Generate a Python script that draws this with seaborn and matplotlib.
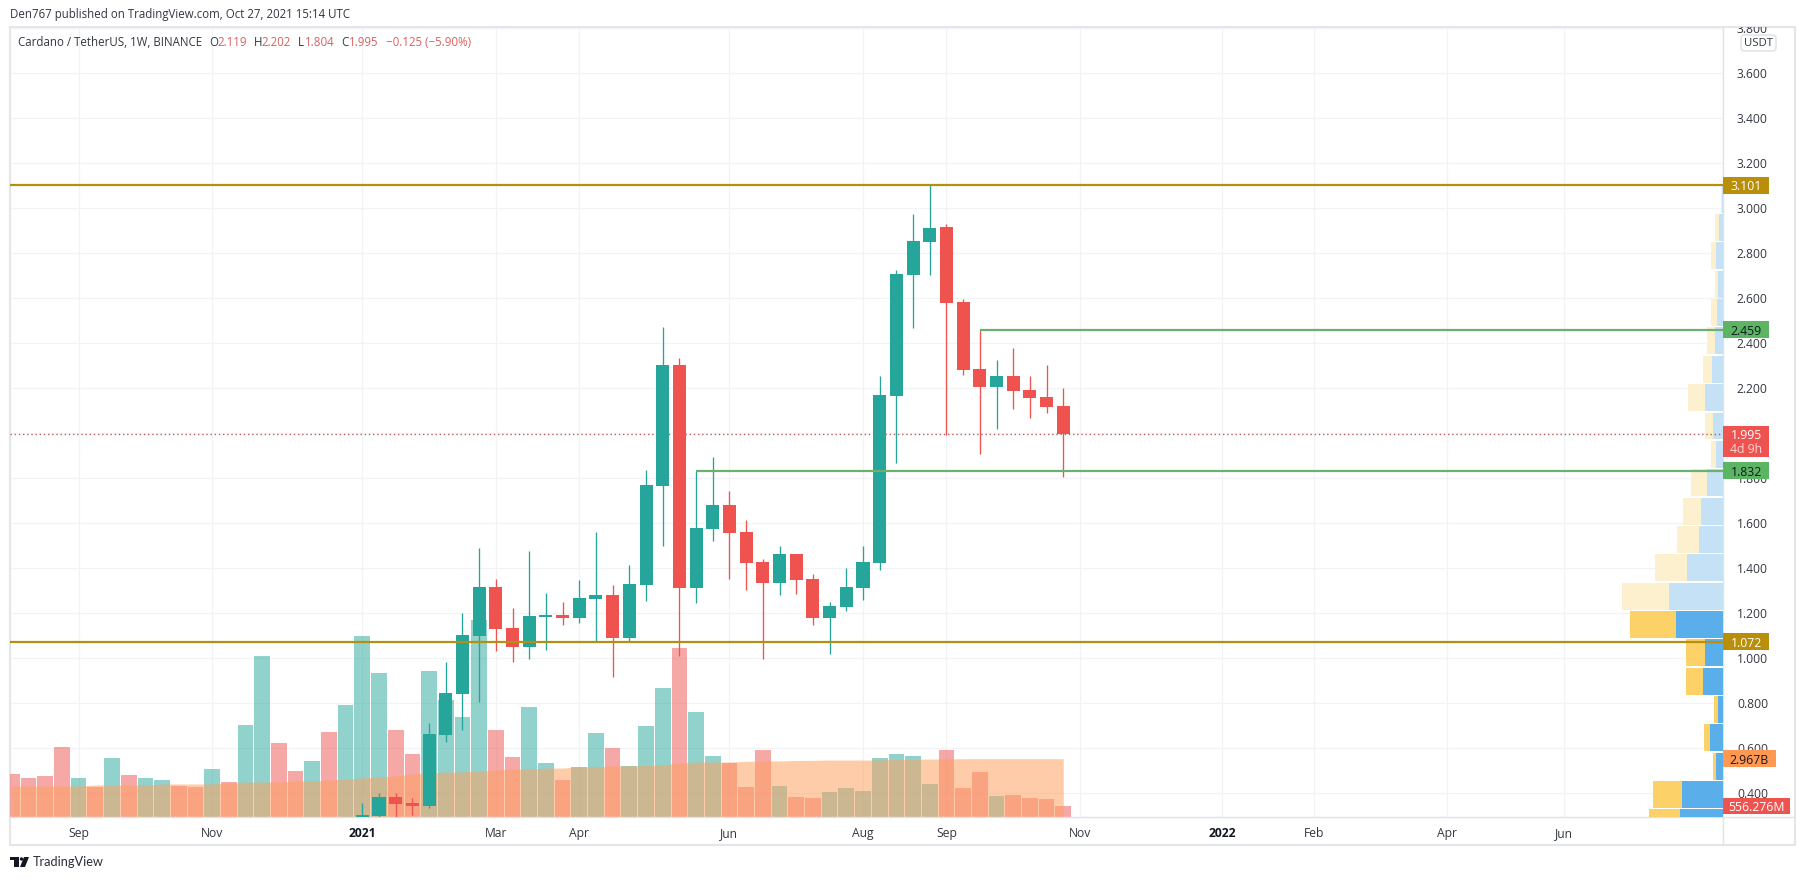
# 1. IMPORT LIBRARIES

import numpy as np
import pandas as pd
import matplotlib.pyplot as plt
import seaborn as sns
from matplotlib.patches import Rectangle, FancyBboxPatch, Circle, Polygon
from matplotlib.transforms import Affine2D, Bbox, blended_transform_factory

sns.set_theme(style="white")
plt.rcParams['font.family'] = ['Open Sans', 'DejaVu Sans']


# 2. DATA

# weekly volume in billions, one per week
volume = [2.19, 1.99, 2.09, 3.56, 1.99, 1.53, 3.00, 2.14, 1.99, 1.88,
          1.58, 1.53, 2.44, 1.78, 4.68, 8.19, 3.77, 2.34, 2.85, 4.33,
          5.70, 9.21, 7.33, 4.43, 3.21, 7.43, 5.96, 5.09, 10.03, 4.43,
          3.05, 5.60, 2.75, 1.88, 2.55, 4.28, 3.51, 2.60, 4.63, 6.57,
          8.60, 5.34, 3.10, 2.75, 1.53, 3.41, 1.58, 1.02, 0.97, 1.27,
          1.48, 1.32, 3.00, 3.21, 3.10, 1.68, 3.41, 1.48, 2.29, 1.07,
          1.12, 0.97, 0.92, 0.556]
side = ['d', 'd', 'd', 'd', 'u', 'd', 'u', 'd', 'u', 'u',
        'd', 'd', 'u', 'd', 'u', 'u', 'd', 'd', 'u', 'd',
        'u', 'u', 'u', 'd', 'd', 'u', 'u', 'u', 'u', 'd',
        'd', 'u', 'u', 'd', 'u', 'u', 'd', 'u', 'u', 'u',
        'd', 'u', 'u', 'd', 'd', 'd', 'u', 'd', 'd', 'u',
        'u', 'u', 'u', 'u', 'u', 'u', 'd', 'd', 'd', 'u',
        'd', 'd', 'd', 'd']
volume_ma = [1.58, 1.58, 1.58, 1.58, 1.58, 1.63, 1.63, 1.63, 1.63, 1.68,
             1.68, 1.68, 1.68, 1.73, 1.78, 1.78, 1.78, 1.83, 1.83, 1.88,
             1.93, 1.99, 2.04, 2.09, 2.19, 2.24, 2.29, 2.29, 2.34, 2.39,
             2.44, 2.44, 2.49, 2.49, 2.55, 2.55, 2.60, 2.60, 2.62, 2.65,
             2.75, 2.80, 2.80, 2.80, 2.83, 2.85, 2.85, 2.88, 2.88, 2.90,
             2.90, 2.90, 2.90, 2.93, 2.93, 2.95, 2.95, 2.967, 2.967, 2.967,
             2.967, 2.967, 2.967, 2.967]

# candles start at week 21
first_candle = 21
opens = [.293, .298, .381, .357, .342, .658, .84, 1.098, 1.316, 1.133, 1.049,
         1.182, 1.191, 1.178, 1.262, 1.28, 1.089, 1.324, 1.764, 2.302, 1.311,
         1.573, 1.68, 1.56, 1.427, 1.333, 1.462, 1.351, 1.178, 1.227, 1.311,
         1.422, 2.164, 2.702, 2.849, 2.916, 2.582, 2.284, 2.204, 2.253, 2.191,
         2.16, 2.119]
closes = [.304, .381, .351, .342, .662, .844, 1.102, 1.316, 1.129, 1.049, 1.187,
          1.191, 1.178, 1.267, 1.28, 1.089, 1.329, 1.769, 2.302, 1.311, 1.578,
          1.68, 1.556, 1.422, 1.333, 1.462, 1.347, 1.178, 1.231, 1.316, 1.427,
          2.169, 2.707, 2.853, 2.911, 2.578, 2.28, 2.204, 2.253, 2.187, 2.156,
          2.116, 1.995]
highs = [.357, .401, .401, .376, .711, .982, 1.2, 1.489, 1.351, 1.222, 1.476,
         1.289, 1.249, 1.347, 1.56, 1.324, 1.413, 1.836, 2.471, 2.333, 1.832,
         1.893, 1.742, 1.613, 1.44, 1.498, 1.462, 1.373, 1.249, 1.4, 1.498,
         2.253, 2.724, 2.973, 3.101, 2.929, 2.596, 2.459, 2.324, 2.378, 2.253,
         2.302, 2.202]
lows = [.293, .293, .293, .302, .333, .627, .68, .804, 1.031, .982, .996,
        1.036, 1.147, 1.156, 1.076, .916, 1.076, 1.253, 1.498, 1.009, 1.244,
        1.52, 1.351, 1.302, .996, 1.28, 1.284, 1.147, 1.018, 1.209, 1.258,
        1.391, 1.867, 2.467, 2.702, 1.991, 2.258, 1.907, 2.018, 2.107, 2.067,
        2.089, 1.804]

# volume profile, relative width per price bin (bottom to top)
vp_price = [.267, .393, .519, .645, .771, .897, 1.023, 1.149, 1.275, 1.401, 1.527,
            1.653, 1.779, 1.905, 2.031, 2.157, 2.283, 2.409, 2.535, 2.661, 2.787,
            2.913, 3.039]
vp_up = [43, 41, 7, 13, 5, 20, 18, 47, 54, 36, 24,
         22, 16, 7, 10, 18, 11, 8, 6, 5, 7, 4, 1]
vp_down = [31, 29, 3, 6, 4, 17, 19, 46, 47, 32, 22,
           18, 16, 5, 8, 17, 9, 8, 6, 3, 5, 4, 0.5]
vp_value_area = [True] * 8 + [False] * 15

y_ticks = [0.4, 0.6, 0.8, 1.0, 1.2, 1.4, 1.6, 1.8, 2.0, 2.2,
           2.4, 2.6, 2.8, 3.0, 3.2, 3.4, 3.6, 3.8]
# 2.000 sits behind the last price badge in the picture, so no text for it
y_tick_labels = ['0.400', '0.600', '0.800', '1.000', '1.200', '1.400', '1.600', '1.800', '',
                 '2.200', '2.400', '2.600', '2.800', '3.000', '3.200', '3.400', '3.600', '3.800']
x_tick_weeks = [4, 12, 21, 29, 34, 43, 51, 56, 64, 72.5, 78, 86, 93]
x_tick_labels = ['Sep', 'Nov', '2021', 'Mar', 'Apr', 'Jun', 'Aug', 'Sep', 'Nov',
                 '2022', 'Feb', 'Apr', 'Jun']

last_price = 1.995
gold_levels = [3.101, 1.072]
green_levels = [2.459, 1.832]
green_starts = [58, 41]  # week where the green level starts

TEAL = '#26a69a'
RED = '#ef5350'
GOLD = '#b38f12'
GREEN = '#6bb071'
TEXT = '#333740'
GRID = '#f1f3f6'
EDGE = '#e4e6ea'


# 3. FIGURE AND AXES

W, H = 1805, 880
fig = plt.figure(figsize=(W / 100, H / 100), dpi=100, facecolor='white')
px = Affine2D().scale(1 / W, -1 / H).translate(0, 1) + fig.transFigure

left, right, top, bottom = 10, 1723, 27, 817
rect = [left / W, 1 - bottom / H, (right - left) / W, (bottom - top) / H]
xlim = (-0.11, 102.53)
ylim = (0.2933, 3.8044)
vol_top = 40.2

ax_grid = fig.add_axes(rect, zorder=0)
ax_vol = fig.add_axes(rect, zorder=1)
ax_vp = fig.add_axes(rect, zorder=2)
ax = fig.add_axes(rect, zorder=3)

# Grid
ax_grid.set_xlim(xlim)
ax_grid.set_ylim(ylim)
ax_grid.set_xticks(x_tick_weeks)
ax_grid.set_yticks(y_ticks)
ax_grid.grid(True, color=GRID, lw=0.9)
ax_grid.tick_params(length=0, labelbottom=False, labelleft=False)
sns.despine(ax=ax_grid, left=True, bottom=True)


# 4. VOLUME AND ITS AVERAGE

weeks = np.arange(len(volume))
df_vol = pd.DataFrame({'week': weeks, 'volume': volume, 'side': side})
sns.barplot(data=df_vol, x='week', y='volume', hue='side', dodge=False,
            palette={'u': TEAL, 'd': RED}, native_scale=True, width=0.94,
            alpha=0.5, saturation=1, linewidth=0, errorbar=None, legend=False, ax=ax_vol)
ax_vol.fill_between(weeks, 0, volume_ma, color='#ff9f5f', alpha=0.53, lw=0, zorder=5)
ax_vol.set_xlim(xlim)
ax_vol.set_ylim(0, vol_top)
ax_vol.axis('off')


# 5. VOLUME PROFILE

df_vp = pd.DataFrame({'price': vp_price, 'up': vp_up,
                      'total': np.array(vp_up) + np.array(vp_down),
                      'area': vp_value_area})
sns.barplot(data=df_vp, y='price', x='total', hue='area', dodge=False, orient='y',
            palette={True: '#fbd168', False: '#fdf0cf'}, native_scale=True, width=0.95,
            saturation=1, linewidth=0, errorbar=None, legend=False, ax=ax_vp)
sns.barplot(data=df_vp, y='price', x='up', hue='area', dodge=False, orient='y',
            palette={True: '#5aaeea', False: '#c5e1f6'}, native_scale=True, width=0.95,
            saturation=1, linewidth=0, errorbar=None, legend=False, ax=ax_vp)
ax_vp.set_xlim(right - left, 0)
ax_vp.set_ylim(ylim)
ax_vp.axis('off')


# 6. CANDLES AND LEVELS

candle_weeks = np.arange(first_candle, first_candle + len(opens))
candle_colors = [TEAL if c >= o else RED for o, c in zip(opens, closes)]
ax.vlines(candle_weeks, lows, highs, colors=candle_colors, lw=0.95, zorder=3)
ax.bar(candle_weeks, np.array(closes) - np.array(opens), bottom=opens, width=0.78,
       color=candle_colors, linewidth=0, zorder=4)

ax.axhline(last_price, color='#b5615e', lw=1, dashes=(1, 2), zorder=2)
for level in gold_levels:
    ax.axhline(level, color=GOLD, lw=1.6, zorder=5)
for level, start in zip(green_levels, green_starts):
    ax.hlines(level, start, xlim[1], color=GREEN, lw=1.6, zorder=5)

ax.set_xlim(xlim)
ax.set_ylim(ylim)
ax.patch.set_visible(False)
sns.despine(ax=ax, left=True, bottom=True)


# 7. AXIS LABELS

ax.yaxis.tick_right()
ax.set_yticks(y_ticks)
ax.set_yticklabels(y_tick_labels)
ax.tick_params(axis='y', length=0, pad=10, labelsize=8.7, labelcolor=TEXT)
ax.yaxis.get_major_ticks()[-1].label2.set_clip_box(Bbox([[0, 0], [W, H - top]]))
ax.yaxis.get_major_ticks()[-1].label2.set_clip_on(True)

ax.set_xticks(x_tick_weeks)
ax.set_xticklabels(x_tick_labels)
ax.tick_params(axis='x', length=0, pad=7, labelsize=8.7, labelcolor=TEXT)
for lab in ax.get_xticklabels():
    if lab.get_text() in ('2021', '2022'):
        lab.set_fontweight('bold')
        lab.set_color('#131722')


# 8. PRICE BADGES

price_tf = ax.get_yaxis_transform()
vol_tf = blended_transform_factory(ax.transAxes, ax_vol.transData)
pane_w = right - left


def badge(value, labels, end_px, color, text_color, tf, unit_h, lines=1):
    w = (end_px - right) / pane_w
    h = unit_h * lines
    y0 = value - unit_h / 2 - (h - unit_h)
    ax.add_patch(Rectangle((1, y0), w, h, transform=tf, color=color, lw=0,
                           clip_on=False, zorder=10))
    for k, (txt, col) in enumerate(zip(labels, text_color)):
        ax.text(1 + w / 2, value - k * unit_h * 0.88, txt, transform=tf, color=col, ha='center',
                va='center_baseline', fontsize=8.8, clip_on=False, zorder=11)


badge(3.101, ['3.101'], 1769, '#b98e08', ['white'], price_tf, 0.074)
badge(2.459, ['2.459'], 1769, '#5cb563', ['#131722'], price_tf, 0.074)
badge(1.995, ['1.995', '4d 9h'], 1769, RED, ['white', '#fbd5d4'], price_tf, 0.068, lines=2)
badge(1.832, ['1.832'], 1769, '#5cb563', ['#131722'], price_tf, 0.074)
badge(1.072, ['1.072'], 1769, '#b98e08', ['white'], price_tf, 0.074)
badge(volume_ma[-1], ['2.967B'], 1776, '#ff9850', ['#131722'], vol_tf, 0.85)
badge(volume[-1], ['556.276M'], 1790, RED, ['white'], vol_tf, 0.85)


# 9. FRAME, HEADER, LOGO

frame = Rectangle((10, 27), 1785, 818, transform=px, fill=False, ec=EDGE, lw=1.5)
fig.add_artist(frame)
fig.add_artist(plt.Line2D([right, right], [top, 845], transform=px, color='#dfe2e7', lw=1))
fig.add_artist(plt.Line2D([left, 1795], [bottom, bottom], transform=px, color='#dfe2e7', lw=1))

usdt = FancyBboxPatch((1741, 35), 35, 16, boxstyle='round,pad=0,rounding_size=3', transform=px,
                      fc='white', ec='#d6d9e0', lw=0.8, zorder=20)
fig.add_artist(usdt)
fig.text(1758.5, 43, 'USDT', transform=px, fontsize=8.2, color=TEXT, ha='center', va='center', zorder=21)

fig.text(10, 14.5, 'Den767 published on TradingView.com, Oct 27, 2021 15:14 UTC', transform=px,
         fontsize=8.3, color=TEXT, va='center')

legend_red = '#d9605e'
legend_parts = [(18, 'Cardano / TetherUS, 1W, BINANCE', TEXT),
                (209, 'O', TEXT), (217, '2.119', legend_red),
                (254, 'H', TEXT), (261, '2.202', legend_red),
                (298, 'L', TEXT), (305, '1.804', legend_red),
                (341, 'C', TEXT), (349, '1.995', legend_red),
                (386, '\u22120.125 (\u22125.90%)', legend_red)]
for x_px, txt, col in legend_parts:
    fig.text(x_px, 42, txt, transform=px, fontsize=8.3, color=col, va='center', zorder=6)

# TradingView mark
fig.add_artist(Polygon([(10, 857), (19, 857), (19, 867), (14, 867), (14, 860), (10, 860)],
                       transform=px, color='#131722', lw=0))
fig.add_artist(Circle((21.5, 859), 1.7, transform=px, color='#131722', lw=0))
fig.add_artist(Polygon([(24, 857), (29, 857), (25, 867), (20, 867)],
                       transform=px, color='#131722', lw=0))
fig.text(33, 862, 'TradingView', family='Lato', transform=px, fontsize=9.2, color='#2a2e39', va='center')

fig.savefig('out.png', dpi=100)
